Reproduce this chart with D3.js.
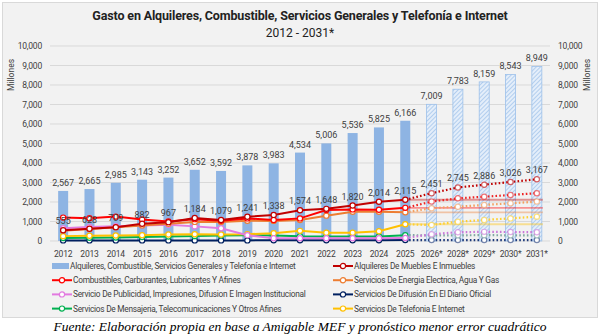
<!DOCTYPE html>
<html>
<head>
<meta charset="utf-8">
<script src="https://cdn.jsdelivr.net/npm/d3@7"></script>
<style>
  body { margin: 0; background: #fff; }
  svg { display: block; }
  text { font-family: "Roboto", sans-serif; }
</style>
</head>
<body>
<svg id="chart" width="600" height="335"></svg>
<script>
// categories (2027 no aparece en el original)
var years = ["2012","2013","2014","2015","2016","2017","2018","2019","2020","2021","2022","2023","2024","2025","2026*","2028*","2029*","2030*","2031*"];
var nHist = 14; // 2012-2025 real, resto pronostico

var totalGasto = [2567,2665,2985,3143,3252,3652,3592,3878,3983,4534,5006,5536,5825,6166,7009,7783,8159,8543,8949];

var alquileresMuebles = [555,628,709,882,967,1184,1079,1241,1338,1574,1648,1820,2014,2115,2451,2745,2886,3026,3167];
var combustibles      = [1200,1170,1250,1100,1000,1120,1040,1160,1080,1160,1590,1620,1600,1700,2020,2190,2270,2360,2450];
var energia           = [530,620,700,800,880,980,980,1040,1030,1080,1300,1500,1500,1470,1680,1760,1850,1930,2020];
var publicidad        = [650,720,760,800,830,750,650,300,140,140,140,140,140,150,350,450,470,460,450];
var telefonia         = [250,270,280,300,330,350,330,350,400,520,420,420,500,860,820,990,1080,1160,1250];
var mensajeria        = [150,170,180,200,230,250,280,300,280,240,230,230,230,300,290,290,300,290,290];
var diarioOficial     = [30,30,30,30,30,30,30,30,40,40,40,40,40,50,50,50,50,50,50];

var yTicks = [0,1000,2000,3000,4000,5000,6000,7000,8000,9000,10000];

var series = [
  { name: "Alquileres De Muebles E Inmuebles", values: alquileresMuebles, color: "#c00000", fcColor: "#c00000", flat: true },
  { name: "Combustibles, Carburantes, Lubricantes Y Afines", values: combustibles, color: "#ff0000", fcColor: "#ee2222", flat: true },
  { name: "Servicios De Energia Electrica, Agua Y Gas", values: energia, color: "#ed7d31", fcColor: "#f4a060", flat: true },
  { name: "Servicio De Publicidad, Impresiones, Difusion E Imagen Institucional", values: publicidad, color: "#e27ae0", fcColor: "#c978d8", flat: false },
  { name: "Servicios De Telefonia E Internet", values: telefonia, color: "#ffc000", fcColor: "#ffd030", flat: true },
  { name: "Servicios De Mensajeria, Telecomunicaciones Y Otros Afines", values: mensajeria, color: "#00b050", fcColor: "#7fa6a0", flat: false },
  { name: "Servicios De Difusión En El Diario Oficial", values: diarioOficial, color: "#002060", fcColor: "#1f3a7a", flat: false }
];

var svg = d3.select("#chart");
var margin = { left: 50, right: 50, top: 46, bottom: 94 };
var width = 600, height = 335;

// fondo del grafico
svg.append("rect")
  .attr("x", 2.5).attr("y", 2.5)
  .attr("width", 595).attr("height", 315)
  .attr("fill", "#f2f2f2")
  .attr("stroke", "#d9d9d9");

var defs = svg.append("defs");
var pat = defs.append("pattern")
  .attr("id", "hatch")
  .attr("width", 3).attr("height", 3)
  .attr("patternUnits", "userSpaceOnUse")
  .attr("patternTransform", "rotate(45)");
pat.append("rect").attr("width", 3).attr("height", 3).attr("fill", "#e4eefa");
pat.append("line").attr("x1", 0).attr("y1", 0).attr("x2", 0).attr("y2", 3)
  .attr("stroke", "#9cc0ea").attr("stroke-width", 1.4);

var x = d3.scaleBand()
  .domain(years)
  .range([margin.left, width - margin.right]);
var y = d3.scaleLinear()
  .domain([0, 10000])
  .range([height - margin.bottom, margin.top]);

// titulo
svg.append("text")
  .attr("x", 300).attr("y", 20)
  .attr("text-anchor", "middle")
  .attr("font-size", 12.5).attr("font-weight", "bold")
  .attr("letter-spacing", -0.15)
  .attr("fill", "#222")
  .text("Gasto en Alquileres, Combustible, Servicios Generales y Telefonía e Internet");
svg.append("text")
  .attr("x", 300).attr("y", 37)
  .attr("text-anchor", "middle")
  .attr("font-size", 12).attr("fill", "#222")
  .text("2012 - 2031*");

// grid
svg.append("g")
  .selectAll("line")
  .data(yTicks)
  .enter().append("line")
  .attr("x1", margin.left).attr("x2", width - margin.right)
  .attr("y1", function(d) { return y(d); })
  .attr("y2", function(d) { return y(d); })
  .attr("stroke", "#d9d9d9").attr("stroke-width", 1);

var fmt = d3.format(",");

// ejes
var yAxisL = svg.append("g")
  .attr("transform", "translate(" + (margin.left - 5) + ",0)")
  .call(d3.axisLeft(y).tickValues(yTicks).tickFormat(fmt).tickSize(0));
var yAxisR = svg.append("g")
  .attr("transform", "translate(" + (width - margin.right + 5) + ",0)")
  .call(d3.axisRight(y).tickValues(yTicks).tickFormat(fmt).tickSize(0));
var xAxis = svg.append("g")
  .attr("transform", "translate(0," + (height - margin.bottom + 5) + ")")
  .call(d3.axisBottom(x).tickSize(0));

[yAxisL, yAxisR, xAxis].forEach(function(a) {
  a.select(".domain").remove();
  a.selectAll("text").attr("font-size", 8.5).attr("fill", "#404040")
    .attr("letter-spacing", -0.2)
    .style("font-family", "Roboto, sans-serif");
});
xAxis.selectAll("text").attr("dy", "0.9em");

svg.append("text")
  .attr("transform", "translate(14,75) rotate(-90)")
  .attr("text-anchor", "middle").attr("font-size", 8.5).attr("fill", "#404040")
  .text("Millones");
svg.append("text")
  .attr("transform", "translate(590,75) rotate(-90)")
  .attr("text-anchor", "middle").attr("font-size", 8.5).attr("fill", "#404040")
  .text("Millones");

// barras
var barW = x.bandwidth() * 0.38;
var barData = totalGasto.map(function(v, i) { return { year: years[i], v: v, fc: i >= nHist }; });

svg.append("g")
  .selectAll("rect")
  .data(barData)
  .enter().append("rect")
  .attr("x", function(d) { return x(d.year) + (x.bandwidth() - barW) / 2; })
  .attr("width", barW)
  .attr("y", function(d) { return y(d.v); })
  .attr("height", function(d) { return y(0) - y(d.v); })
  .attr("fill", function(d) { return d.fc ? "url(#hatch)" : "#8eb4e3"; })
  .attr("stroke", function(d) { return d.fc ? "#9cc0ea" : "none"; })
  .attr("stroke-width", 0.8);

svg.append("g")
  .selectAll("text")
  .data(barData)
  .enter().append("text")
  .attr("x", function(d) { return x(d.year) + x.bandwidth() / 2; })
  .attr("y", function(d) { return y(d.v) - 5; })
  .attr("text-anchor", "middle")
  .attr("font-size", 9).attr("fill", "#404040")
  .text(function(d) { return fmt(d.v); });

var cx = function(i) { return x(years[i]) + x.bandwidth() / 2; };
var lineGen = d3.line()
  .x(function(d) { return cx(d.i); })
  .y(function(d) { return y(d.v); });

// lineas planas claras del pronostico (nivel 2025)
var linesG = svg.append("g");
series.forEach(function(s) {
  if (!s.flat) return;
  var lvl = s.values[nHist - 1];
  linesG.append("line")
    .attr("x1", cx(nHist - 1)).attr("x2", cx(years.length - 1) + 6)
    .attr("y1", y(lvl)).attr("y2", y(lvl))
    .attr("stroke", s.color).attr("stroke-opacity", 0.4).attr("stroke-width", 1.8);
});

// series (de abajo hacia arriba)
series.slice().reverse().forEach(function(s) {
  var pts = s.values.map(function(v, i) { return { i: i, v: v }; });
  var hist = pts.slice(0, nHist);
  var fc = pts.slice(nHist - 1);

  linesG.append("path")
    .attr("d", lineGen(fc))
    .attr("fill", "none")
    .attr("stroke", s.fcColor)
    .attr("stroke-width", 2.2)
    .attr("stroke-dasharray", "1.6,2.2");

  linesG.append("path")
    .attr("d", lineGen(hist))
    .attr("fill", "none")
    .attr("stroke", s.color)
    .attr("stroke-width", 2);

  linesG.selectAll(null)
    .data(pts)
    .enter().append("circle")
    .attr("cx", function(d) { return cx(d.i); })
    .attr("cy", function(d) { return y(d.v); })
    .attr("r", 2.6)
    .attr("fill", "#fff")
    .attr("stroke", function(d) { return d.i >= nHist ? s.fcColor : s.color; })
    .attr("stroke-opacity", function(d) { return d.i >= nHist ? 0.6 : 1; })
    .attr("stroke-width", 1.2);
});

// etiquetas de Alquileres De Muebles
svg.append("g")
  .selectAll("text")
  .data(alquileresMuebles)
  .enter().append("text")
  .attr("x", function(d, i) { return cx(i); })
  .attr("y", function(d) { return y(d) - 6; })
  .attr("text-anchor", "middle")
  .attr("font-size", 9).attr("fill", "#404040")
  .text(function(d) { return fmt(d); });

// leyenda
var legendItems = [
  { name: "Alquileres, Combustible, Servicios Generales y Telefonía e Internet", bar: true, col: 0, row: 0 },
  { name: series[1].name, color: series[1].color, col: 0, row: 1 },
  { name: series[3].name, color: series[3].color, col: 0, row: 2 },
  { name: series[5].name, color: series[5].color, col: 0, row: 3 },
  { name: series[0].name, color: series[0].color, col: 1, row: 0 },
  { name: series[2].name, color: series[2].color, col: 1, row: 1 },
  { name: series[6].name, color: series[6].color, col: 1, row: 2 },
  { name: series[4].name, color: series[4].color, col: 1, row: 3 }
];
var legX = [52, 333], legY = 266, legStep = 14.2;
var leg = svg.append("g")
  .selectAll("g")
  .data(legendItems)
  .enter().append("g")
  .attr("transform", function(d) { return "translate(" + legX[d.col] + "," + (legY + d.row * legStep) + ")"; });
leg.filter(function(d) { return d.bar; })
  .append("rect").attr("x", 0).attr("y", -3).attr("width", 17).attr("height", 6).attr("fill", "#8eb4e3");
leg.filter(function(d) { return !d.bar; })
  .append("line").attr("x1", 0).attr("x2", 20).attr("y1", 0).attr("y2", 0)
  .attr("stroke", function(d) { return d.color; }).attr("stroke-width", 2);
leg.filter(function(d) { return !d.bar; })
  .append("circle").attr("cx", 10).attr("cy", 0).attr("r", 2.6)
  .attr("fill", "#fff").attr("stroke", function(d) { return d.color; }).attr("stroke-width", 1.2);
leg.append("text")
  .attr("x", function(d) { return d.bar ? 18 : 21; })
  .attr("y", 3)
  .attr("font-size", 8.3).attr("letter-spacing", -0.25).attr("fill", "#404040")
  .text(function(d) { return d.name; });

// fuente
svg.append("text")
  .attr("x", 300).attr("y", 331)
  .attr("text-anchor", "middle")
  .attr("font-size", 13.5).attr("font-style", "italic")
  .style("font-family", "'Liberation Serif', 'Times New Roman', serif")
  .attr("fill", "#000")
  .text("Fuente: Elaboración propia en base a Amigable MEF y pronóstico menor error cuadrático");
</script>
</body>
</html>
